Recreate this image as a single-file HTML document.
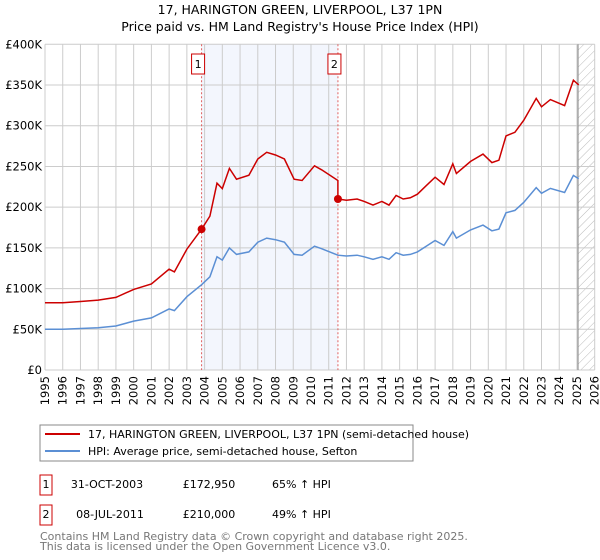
<!DOCTYPE html>
<html><head><meta charset="utf-8"><style>
body{margin:0;background:#fff;font-family:"DejaVu Sans","Liberation Sans",sans-serif;}
#wrap{position:relative;width:600px;height:560px;overflow:hidden}
text{font-family:"DejaVu Sans","Liberation Sans",sans-serif}
</style></head><body><div id="wrap">
<svg id="svg" width="600" height="560" xmlns="http://www.w3.org/2000/svg">
<text x="300" y="14" text-anchor="middle" font-size="12.5">17, HARINGTON GREEN, LIVERPOOL, L37 1PN</text>
<text x="300" y="31" text-anchor="middle" font-size="12.5">Price paid vs. HM Land Registry's House Price Index (HPI)</text>
<g id="grid"></g><g id="marks"></g><g id="axes"></g>
<rect x="40" y="425" width="373" height="36" fill="#fff" stroke="#888"/>
<line x1="45" y1="434" x2="80" y2="434" stroke="#cc0000" stroke-width="2"/>
<text x="88" y="438" font-size="11">17, HARINGTON GREEN, LIVERPOOL, L37 1PN (semi-detached house)</text>
<line x1="45" y1="451" x2="80" y2="451" stroke="#5b8fd4" stroke-width="2"/>
<text x="88" y="455" font-size="11">HPI: Average price, semi-detached house, Sefton</text>
<g>
<rect x="40" y="475" width="12" height="20" fill="#fff" stroke="#cc0000"/><text x="46" y="488" font-size="11" text-anchor="middle">1</text>
<text x="107" y="488" font-size="11" text-anchor="middle">31-OCT-2003</text>
<text x="209" y="488" font-size="11" text-anchor="middle">£172,950</text>
<text x="272" y="488" font-size="11">65% ↑ HPI</text></g>
<g>
<rect x="40" y="505" width="12" height="20" fill="#fff" stroke="#cc0000"/><text x="46" y="518" font-size="11" text-anchor="middle">2</text>
<text x="110" y="518" font-size="11" text-anchor="middle">08-JUL-2011</text>
<text x="209" y="518" font-size="11" text-anchor="middle">£210,000</text>
<text x="272" y="518" font-size="11">49% ↑ HPI</text></g>
<text x="40" y="540" font-size="11" fill="#777">Contains HM Land Registry data © Crown copyright and database right 2025.</text>
<text x="40" y="550" font-size="11" fill="#777">This data is licensed under the Open Government Licence v3.0.</text>
</svg></div>
<script>
const hpiYears=[1995,1996,1997,1998,1999,2000,2001,2002,2002.3,2003,2003.83,2004.3,2004.7,2005,2005.4,2005.8,2006.5,2007,2007.5,2008,2008.5,2009.05,2009.5,2010.2,2010.6,2011.52,2012,2012.6,2013,2013.5,2014,2014.4,2014.8,2015.2,2015.6,2016,2016.5,2017,2017.5,2018,2018.2,2019,2019.7,2020.2,2020.6,2021,2021.5,2022,2022.7,2023,2023.5,2024.3,2024.8,2025.1];
const hpiValues=[50000,50000,51000,52000,54000,60000,64000,75000,73000,90000,104800,114500,139000,135000,150000,142000,145000,157000,162000,160000,157000,142000,141000,152000,149000,141000,140000,141000,139000,136000,139000,136000,144000,141000,142000,145000,152000,159000,153000,170000,162000,172000,178000,171000,173000,193000,196000,206000,224000,217000,223000,218000,239000,235000];
const saleYears=[2003.83,2011.52];
const salePrices=[172950,210000];
const yTicks=[0,50000,100000,150000,200000,250000,300000,350000,400000];
const yTickLabels=["£0","£50K","£100K","£150K","£200K","£250K","£300K","£350K","£400K"];
const xTicks=[1995,1996,1997,1998,1999,2000,2001,2002,2003,2004,2005,2006,2007,2008,2009,2010,2011,2012,2013,2014,2015,2016,2017,2018,2019,2020,2021,2022,2023,2024,2025,2026];
const NS="http://www.w3.org/2000/svg";
const X0=45,X1=594.7,Y0=370,Y1=44.3;
const x=v=>X0+(v-1995)/(2026-1995)*(X1-X0);
const y=v=>Y0-v/400000*(Y0-Y1);
function el(t,a,p){const e=document.createElementNS(NS,t);for(const k in a)e.setAttribute(k,a[k]);p.appendChild(e);return e;}
const grid=document.getElementById('grid'),marks=document.getElementById('marks'),axes=document.getElementById('axes');
function hpiAt(t){for(let i=0;i<hpiYears.length-1;i++){if(t<=hpiYears[i+1]){const f=(t-hpiYears[i])/(hpiYears[i+1]-hpiYears[i]);return hpiValues[i]+f*(hpiValues[i+1]-hpiValues[i]);}}return hpiValues[hpiValues.length-1];}
const sh=el('rect',{x:x(saleYears[0]),y:Y1,width:x(saleYears[1])-x(saleYears[0]),height:Y0-Y1,fill:'#f3f6fd'},grid);


const defs=el('defs',{},grid);
const pat=el('pattern',{id:'hatch',width:6,height:6,patternUnits:'userSpaceOnUse',patternTransform:'rotate(45)'},defs);
el('line',{x1:0,y1:0,x2:0,y2:6,stroke:'#bbb','stroke-width':1},pat);
const ht=el('rect',{x:x(2025.06),y:Y1,width:X1-x(2025.06),height:Y0-Y1,fill:'url(#hatch)'},grid);


xTicks.forEach(t=>{const l=el('line',{x1:x(t),y1:Y1,x2:x(t),y2:Y0,stroke:'#ccc'},grid);


const tx=el('text',{x:0,y:0,'font-size':11.5,'text-anchor':'end',transform:`translate(${x(t)+4},${Y0+6}) rotate(-90)`},axes);tx.textContent=t;

});
yTicks.forEach((t,i)=>{const l=el('line',{x1:X0,y1:y(t),x2:X1,y2:y(t),stroke:'#ccc'},grid);


const tx=el('text',{x:X0-3,y:y(t)+4,'font-size':11.5,'text-anchor':'end'},axes);tx.textContent=yTickLabels[i];

});
const cur=el('line',{x1:x(2025.06),y1:Y1,x2:x(2025.06),y2:Y0,stroke:'#888','stroke-width':1},grid);


saleYears.forEach((s,i)=>{const l=el('line',{x1:x(s),y1:Y1,x2:x(s),y2:Y0,stroke:'#e06060','stroke-dasharray':'2,2'},grid);


const g=el('g',{},axes);


el('rect',{x:x(s)-10,y:54,width:13,height:20,fill:'#fff',stroke:'#cc0000'},g);
const tx=el('text',{x:x(s)-3.5,y:68,'font-size':11,'text-anchor':'middle'},g);tx.textContent=i+1;});
let hp='',rp='';
const r=saleYears.map((s,i)=>salePrices[i]/hpiAt(s));
hpiYears.forEach((t,i)=>{hp+=(i?'L':'M')+x(t).toFixed(1)+','+y(hpiValues[i]).toFixed(1);});
const rpts=[];
hpiYears.forEach((t,i)=>{if(t<saleYears[1])rpts.push([t,hpiValues[i]*r[0]]);});
rpts.push([saleYears[1],hpiAt(saleYears[1])*r[0]]);rpts.push([saleYears[1],salePrices[1]]);
hpiYears.forEach((t,i)=>{if(t>saleYears[1])rpts.push([t,hpiValues[i]*r[1]]);});
rpts.forEach((p,i)=>{rp+=(i?'L':'M')+x(p[0]).toFixed(1)+','+y(p[1]).toFixed(1);});
const hl=el('path',{d:hp,fill:'none',stroke:'#5b8fd4','stroke-width':1.5},marks);


const rl=el('path',{d:rp,fill:'none',stroke:'#cc0000','stroke-width':1.5},marks);


saleYears.forEach((s,i)=>{const c=el('circle',{cx:x(s),cy:y(salePrices[i]),r:4,fill:'#cc0000'},marks);

});
</script></body></html>
